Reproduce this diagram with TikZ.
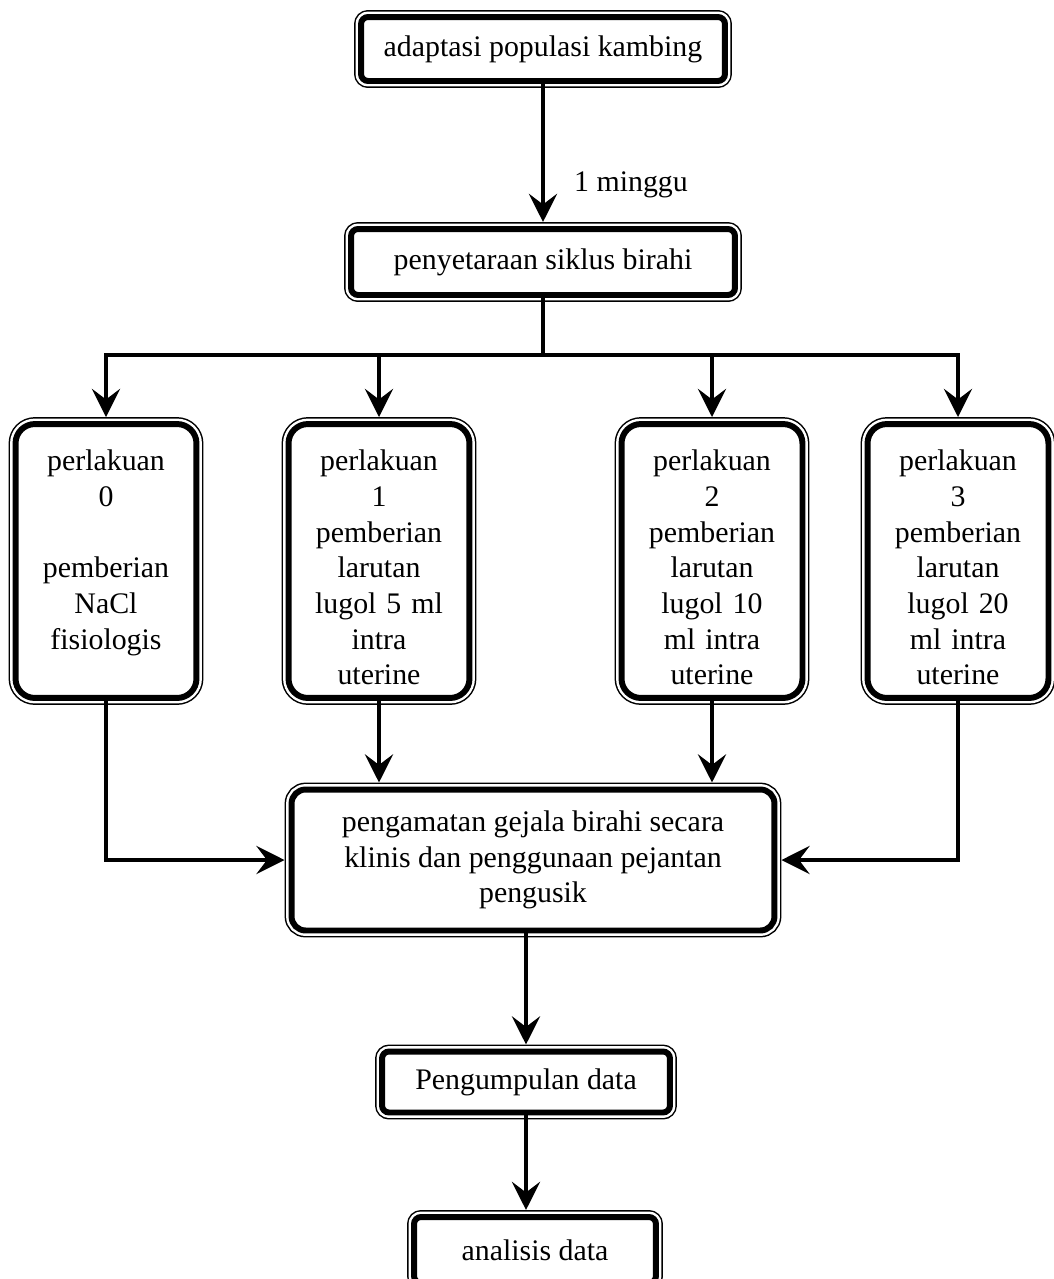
\documentclass[tikz,border=0pt]{standalone}
\usepackage{fontspec}
\setmainfont{Liberation Serif}
\usetikzlibrary{arrows.meta,positioning}
\colorlet{garis}{black}
\tikzset{
    kotak/.style={draw=garis,fill=white,line width=3.4pt,outer sep=0pt,inner sep=0pt,rounded corners=4pt,
        preaction={draw=garis,line width=7.9pt},preaction={draw=white,line width=6.2pt},
        align=center,text=black,font=\fontsize{17}{20.3}\selectfont},
    perl/.style={kotak,rounded corners=11pt,minimum width=3.62cm,text width=96pt,
        text height=26.6pt,text depth=129.3pt},
    panah/.style={garis,line width=2.8pt,-{Stealth[length=16pt,width=16pt,inset=6pt]},shorten >=4pt},
    teks/.style={font=\fontsize{17}{20.3}\selectfont}
}

\begin{document}
\begin{tikzpicture}[x=0.02cm,y=-0.02cm]
        \useasboundingbox (0,0) rectangle (1054,1279);
        \node[kotak,minimum width=7.28cm,minimum height=1.28cm] (adaptasi) at (543,49) {adaptasi populasi kambing};
        \node[kotak,minimum width=7.68cm,minimum height=1.32cm] (setara) at (543,262) {penyetaraan siklus birahi};
        \node[perl] (p0) at (106,561) {perlakuan\\0\\[20.3pt]pemberian\\NaCl\\fisiologis};
        \node[perl] (p1) at (379,561) {perlakuan\\1\\pemberian\\larutan\\lugol 5 ml\\intra\\uterine};
        \node[perl] (p2) at (712,561) {perlakuan\\2\\pemberian\\larutan\\lugol 10\\ml intra\\uterine};
        \node[perl] (p3) at (958,561) {perlakuan\\3\\pemberian\\larutan\\lugol 20\\ml intra\\uterine};
        \node[kotak,rounded corners=8pt,minimum width=9.66cm,minimum height=2.82cm] (amat) at (533,860)
            {pengamatan gejala birahi secara\\klinis dan penggunaan pejantan\\pengusik};
        \node[kotak,minimum width=5.76cm,minimum height=1.22cm] (kumpul) at (526,1082) {Pengumpulan data};
        \node[kotak,minimum width=4.84cm,minimum height=1.32cm] (analisis) at (535,1250) {analisis data};
        \coordinate (cabang) at (543,355);

        \draw[panah] (adaptasi.south) -- node[teks,pos=0.7,right=13pt] (minggu) {1 minggu} (adaptasi.south |- setara.north);
        \draw[garis,line width=2.8pt] (setara.south) -- (cabang);
        \draw[panah] (cabang) -| (p0.north);
        \draw[panah] (cabang) -| (p3.north);
        \foreach \p in {p1,p2} {
            \draw[panah] (\p.north |- cabang) -- (\p.north);
            \draw[panah] (\p.south) -- (\p.south |- amat.north);
        }
        \draw[panah] (p0.south) |- (amat.west);
        \draw[panah] (p3.south) |- (amat.east);
        \draw[panah] (kumpul.north |- amat.south) -- (kumpul.north);
        \draw[panah] (kumpul.south) -- (kumpul.south |- analisis.north);
\end{tikzpicture}
\end{document}
